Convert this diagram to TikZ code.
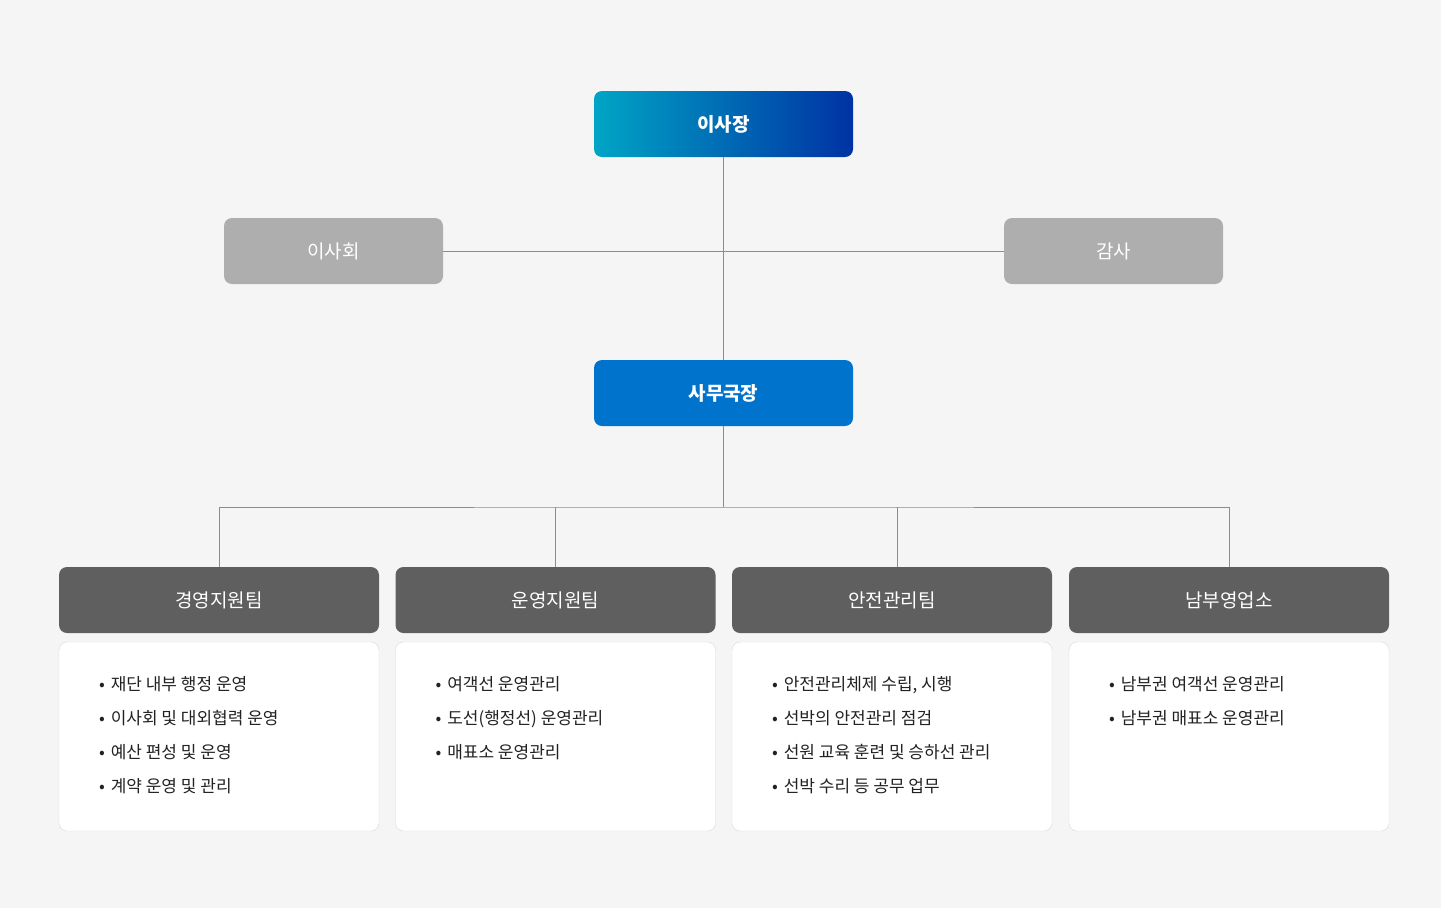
\documentclass[tikz,border=0pt]{standalone}
\usepackage{fontspec}
\setmainfont{Noto Sans CJK KR}

\begin{document}
\begin{tikzpicture}[x=1pt,y=-1pt,
		topbox/.style={rounded corners=8pt,minimum width=259pt,minimum height=66pt,inner sep=0pt,text=white,font=\fontsize{19}{21}\selectfont\bfseries},
		sidebox/.style={rounded corners=8pt,minimum width=219pt,minimum height=66pt,inner sep=0pt,fill=mycolor4,text=white,font=\fontsize{19}{21}\selectfont},
		teambox/.style={rounded corners=8pt,minimum width=320pt,minimum height=66pt,inner sep=0pt,fill=mycolor5,text=white,font=\fontsize{19}{21}\selectfont},
		listbox/.style={rounded corners=8pt,minimum width=320pt,minimum height=189pt,inner sep=0pt,draw=mycolor7,fill=white},
		listtext/.style={anchor=north west,align=left,inner sep=0pt,text=mycolor9,font=\fontsize{17}{34}\selectfont},
		link/.style={draw=mycolor8,line width=1pt}]
		\definecolor{mycolor1}{RGB}{0,165,197}
		\definecolor{mycolor2}{RGB}{0,50,164}
		\definecolor{mycolor3}{RGB}{0,115,204}
		\definecolor{mycolor4}{RGB}{174,174,174}
		\definecolor{mycolor5}{RGB}{95,95,95}
		\definecolor{mycolor6}{RGB}{245,245,245}
		\definecolor{mycolor7}{RGB}{216,216,216}
		\definecolor{mycolor8}{RGB}{140,140,140}
		\definecolor{mycolor9}{RGB}{34,34,34}
		\newcommand{\itm}{•\hspace{6pt}}

		\fill[mycolor6] (0,0) rectangle (1441,908);

		\node[topbox,left color=mycolor1,right color=mycolor2] (chair) at (723.5,124) {\raisebox{-1pt}{이사장}};
		\node[topbox,fill=mycolor3] (chief) at (723.5,393) {\raisebox{-1pt}{사무국장}};
		\node[sidebox] (board) at (333.5,251) {\raisebox{-1pt}{이사회}};
		\node[sidebox] (audit) at (1113.5,251) {\raisebox{-1pt}{감사}};

		\node[teambox] (team1) at (219,600) {\raisebox{-2pt}{경영지원팀}};
		\node[teambox] (team2) at (555.5,600) {\raisebox{-2pt}{운영지원팀}};
		\node[teambox] (team3) at (892,600) {\raisebox{-2pt}{안전관리팀}};
		\node[teambox] (team4) at (1229,600) {\raisebox{-2pt}{남부영업소}};

		\node[listbox] (list1) at (219,736.5) {};
		\node[listbox] (list2) at (555.5,736.5) {};
		\node[listbox] (list3) at (892,736.5) {};
		\node[listbox] (list4) at (1229,736.5) {};

		\node[listtext] (text1) at ([shift={(40,34)}]list1.north west) {\itm 재단 내부 행정 운영\\\itm 이사회 및 대외협력 운영\\\itm 예산 편성 및 운영\\\itm 계약 운영 및 관리};
		\node[listtext] (text2) at ([shift={(40,34)}]list2.north west) {\itm 여객선 운영관리\\\itm 도선(행정선) 운영관리\\\itm 매표소 운영관리};
		\node[listtext] (text3) at ([shift={(40,34)}]list3.north west) {\itm 안전관리체제 수립, 시행\\\itm 선박의 안전관리 점검\\\itm 선원 교육 훈련 및 승하선 관리\\\itm 선박 수리 등 공무 업무};
		\node[listtext] (text4) at ([shift={(40,34)}]list4.north west) {\itm 남부권 여객선 운영관리\\\itm 남부권 매표소 운영관리};

		\coordinate (hub) at (723.5,507);

		\draw[link] (board) -- (audit);
		\draw[link] (chair) -- (chief);
		\draw[link] (chief) -- (hub);
		\draw[link] (team1.north) |- (hub) -| (team4.north);
		\draw[link] (team2.north) -- (team2.north |- hub);
		\draw[link] ([xshift=5pt]team3.north) -- ([xshift=5pt]team3.north |- hub);

\end{tikzpicture}
\end{document}
